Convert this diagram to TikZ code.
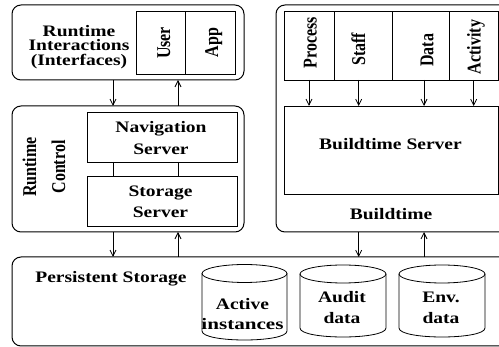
\documentclass[tikz,border=0pt]{standalone}
\usepackage{fontspec}
\setmainfont{Liberation Serif}
\usetikzlibrary{arrows.meta}
\newcommand\hs[1]{\scalebox{1.22}[1]{#1}}
\newcommand\vs[1]{\scalebox{1}[1.22]{#1}}
\begin{document}
\begin{tikzpicture}[x=1pt,y=-1pt,
  outerbox/.style={draw, line width=1pt, rounded corners=9pt, inner sep=0pt, outer sep=0pt},
  innerbox/.style={draw, line width=0.8pt, inner sep=0pt, outer sep=0pt},
  lbl/.style={font=\bfseries\fontsize{16}{21}\selectfont, inner sep=0pt, align=center},
  arr/.style={line width=0.8pt, -{Straight Barb[length=6pt,width=6pt]}},
  conn/.style={line width=0.8pt}]
\useasboundingbox (0,0) rectangle (499,347);
\clip (0,0) rectangle (499,347);

% outer boxes
\node[outerbox, minimum width=232pt, minimum height=75pt] (ri) at (128,42.5) {};
\node[outerbox, minimum width=232pt, minimum height=126pt] (rc) at (128,169) {};
\node[outerbox, minimum width=503pt, minimum height=89pt] (ps) at (263.5,301.5) {};
\node[outerbox, minimum width=239pt, minimum height=227pt] (bt) at (395.5,118.5) {};

% inner boxes
\node[innerbox, minimum width=49.5pt, minimum height=63pt] (user) at (160.75,42.5) {};
\node[innerbox, minimum width=49.5pt, minimum height=63pt] (app) at (210.25,42.5) {};
\node[innerbox, minimum width=150pt, minimum height=50pt] (nav) at (162,137) {};
\node[innerbox, minimum width=150pt, minimum height=50pt] (sto) at (162,201) {};
\node[innerbox, minimum width=50pt, minimum height=69pt] (proc) at (309,45.5) {};
\node[innerbox, minimum width=58pt, minimum height=69pt] (staff) at (363,45.5) {};
\node[innerbox, minimum width=57pt, minimum height=69pt] (data) at (420.5,45.5) {};
\node[innerbox, minimum width=49pt, minimum height=69pt] (act) at (473.5,45.5) {};
\node[innerbox, minimum width=214pt, minimum height=88pt] (bs) at (391,150) {};

% cylinders
\draw[conn] (202,273.5) -- (202,331) .. controls (202,343) and (287,343) .. (287,331) -- (287,273.5);
\draw[conn] (244.5,273.5) ellipse [x radius=42.5, y radius=9];
\draw[conn] (300,274) -- (300,328) .. controls (300,340) and (386,340) .. (386,328) -- (386,274);
\draw[conn] (343,274) ellipse [x radius=43, y radius=9];
\draw[conn] (399,274) -- (399,328) .. controls (399,340) and (485,340) .. (485,328) -- (485,274);
\draw[conn] (442,274) ellipse [x radius=43, y radius=9];

% labels
\node[lbl, font=\bfseries\fontsize{16}{14.7}\selectfont] (riL) at (79,47) {\hs{Runtime}\\\hs{Interactions}\\\hs{(Interfaces)}};
\node[lbl, rotate=90, anchor=base] (userL) at (170,43) {\vs{User}};
\node[lbl, rotate=90, anchor=base] (appL) at (218,42.5) {\vs{App}};
\node[lbl, rotate=90, font=\bfseries\fontsize{16}{29}\selectfont] (rcL) at (44,167) {\vs{Runtime}\\\vs{Control}};
\node[lbl, font=\bfseries\fontsize{16}{22}\selectfont] (navL) at (161,138.5) {\hs{Navigation}\\\hs{Server}};
\node[lbl] (stoL) at (160.5,201.5) {\hs{Storage}\\\hs{Server}};
\node[lbl, anchor=base] (psL) at (111,283) {\hs{Persistent Storage}};
\node[lbl, rotate=90, anchor=base] (procL) at (316.7,42.7) {\vs{Process}};
\node[lbl, rotate=90, anchor=base] (staffL) at (365,49.2) {\vs{Staff}};
\node[lbl, rotate=90, anchor=base] (dataL) at (433.3,50.3) {\vs{Data}};
\node[lbl, rotate=90, anchor=base] (actL) at (480.6,47) {\vs{Activity}};
\node[lbl, anchor=base] (bsL) at (390.5,150) {\hs{Buildtime Server}};
\node[lbl, anchor=base] (btL) at (391,220) {\hs{Buildtime}};
\node[lbl, font=\bfseries\fontsize{16}{20}\selectfont] (c1L) at (242.5,314.5) {\hs{Active}\\\scalebox{1.32}[1]{instances}};
\node[lbl] (c2L) at (342,308) {\hs{Audit}\\\hs{data}};
\node[lbl] (c3L) at (441,308) {\hs{Env.}\\\hs{data}};

% connector columns
\coordinate (xa) at (113,0);
\coordinate (xb) at (178,0);
\coordinate (xp) at (309,0);
\coordinate (xs) at (358.7,0);
\coordinate (xd) at (424,0);
\coordinate (xt) at (473.7,0);

\draw[arr] (xa |- ri.south) -- (xa |- rc.north);
\draw[arr] (xb |- rc.north) -- (xb |- ri.south);
\draw[conn] (xa |- nav.south) -- (xa |- sto.north);
\draw[conn] (xb |- nav.south) -- (xb |- sto.north);
\draw[arr] (xa |- rc.south) -- (xa |- ps.north);
\draw[arr] (xb |- ps.north) -- (xb |- rc.south);

\draw[arr] (xp |- proc.south) -- (xp |- bs.north);
\draw[arr] (xs |- staff.south) -- (xs |- bs.north);
\draw[arr] (xd |- data.south) -- (xd |- bs.north);
\draw[arr] (xt |- act.south) -- (xt |- bs.north);

\draw[arr] (xs |- bt.south) -- (xs |- ps.north);
\draw[arr] (xd |- ps.north) -- (xd |- bt.south);
\end{tikzpicture}
\end{document}
